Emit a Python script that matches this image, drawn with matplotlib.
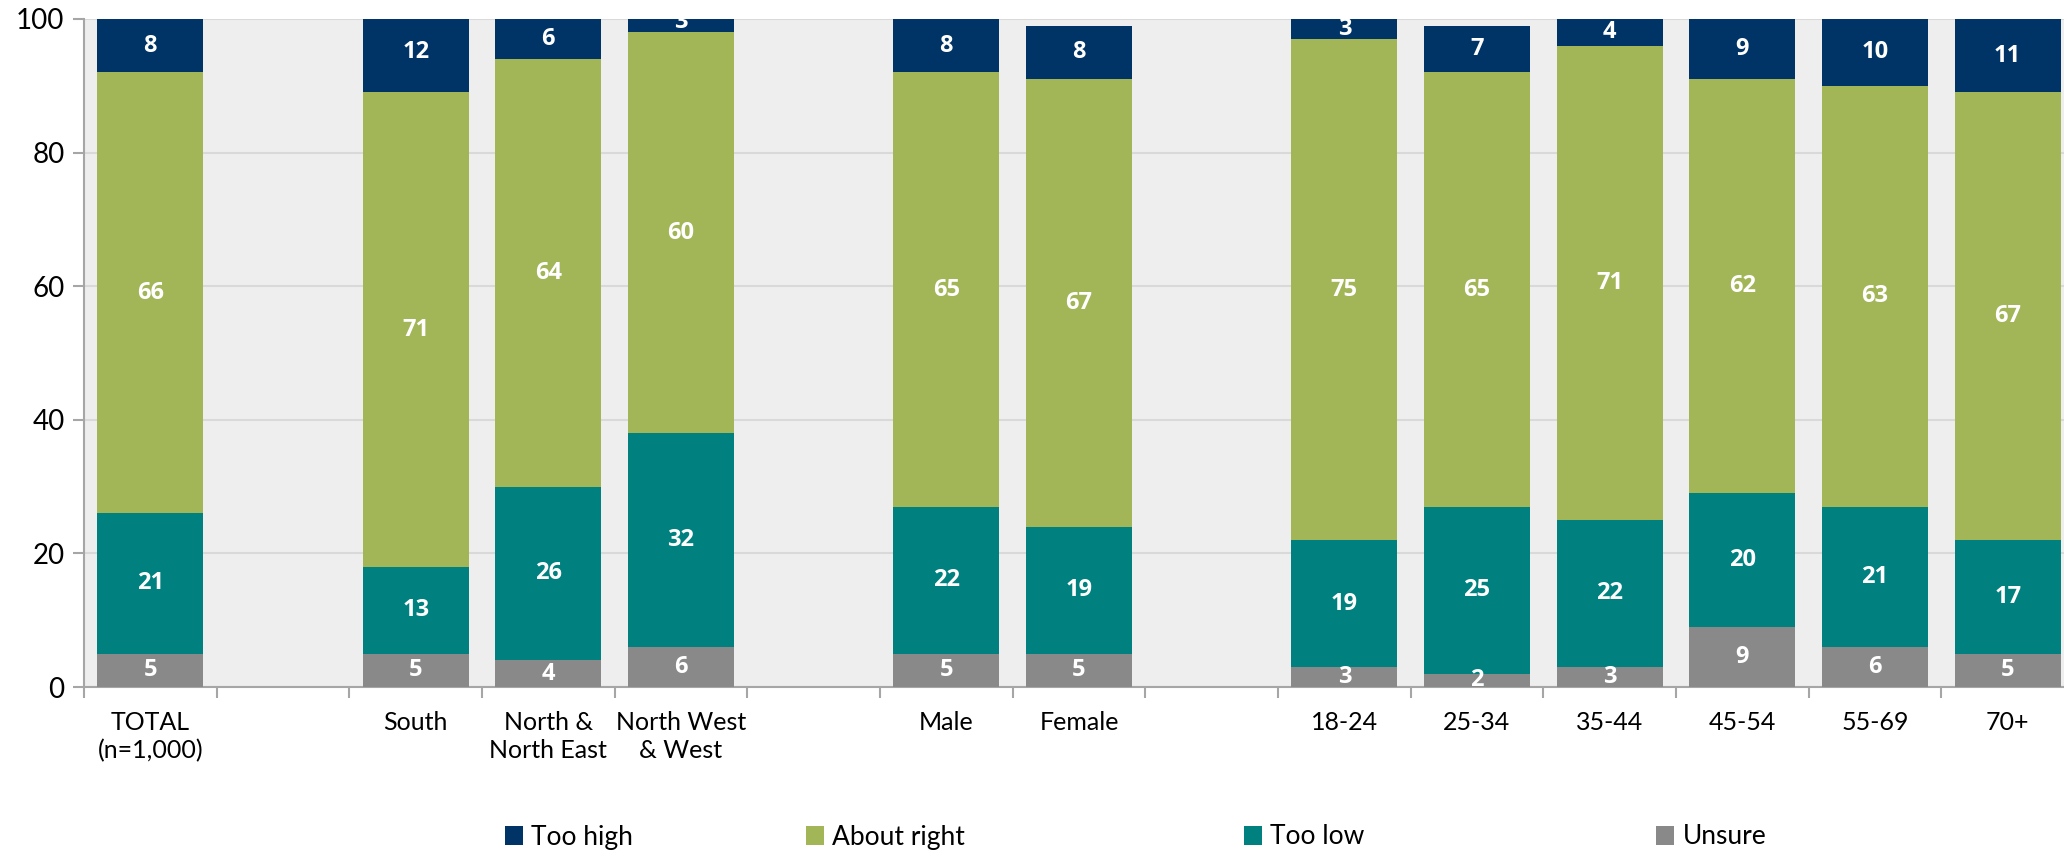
import numpy as np
import matplotlib
matplotlib.use("Agg")
import matplotlib.pyplot as plt

plt.rcParams['font.family'] = ['Lato', 'DejaVu Sans']

# Groups with empty slots used as spacers between the breakdowns
categories = ['TOTAL\n(n=1,000)', '', 'South', 'North &\nNorth East', 'North West\n& West', '',
              'Male', 'Female', '', '18-24', '25-34', '35-44', '45-54', '55-69', '70+']

unsure =      [5, None, 5, 4, 6, None, 5, 5, None, 3, 2, 3, 9, 6, 5]
too_low =     [21, None, 13, 26, 32, None, 22, 19, None, 19, 25, 22, 20, 21, 17]
about_right = [66, None, 71, 64, 60, None, 65, 67, None, 75, 65, 71, 62, 63, 67]
too_high =    [8, None, 12, 6, 3, None, 8, 8, None, 3, 7, 4, 9, 10, 11]

series = [('Unsure', unsure, '#898989'),
          ('Too low', too_low, '#00807F'),
          ('About right', about_right, '#A2B658'),
          ('Too high', too_high, '#003366')]

fig = plt.figure(figsize=(20.64, 8.57), dpi=100)
ax = fig.add_axes([84 / 2064, 170 / 857, 1990 / 2064, 668 / 857])
ax.set_facecolor('#EEEEEE')

x = np.arange(len(categories))
mask = np.array([v is not None for v in unsure])
xs = x[mask]
bottom = np.zeros(mask.sum())
handles = {}
for name, vals, color in series:
    v = np.array([a for a in vals if a is not None], dtype=float)
    bars = ax.bar(xs, v, width=0.8, bottom=bottom, color=color, label=name, zorder=3)
    handles[name] = bars
    for xi, b, h in zip(xs, bottom, v):
        ax.text(xi, b + h / 2, f'{int(h)}', ha='center', va='center', color='white',
                fontsize=17, fontweight='bold', family=['Open Sans', 'DejaVu Sans'],
                zorder=4, clip_on=True)
    bottom += v

ax.set_xlim(-0.5, len(categories) - 0.5)
ax.set_ylim(0, 100)
ax.set_yticks(range(0, 101, 20))
ax.yaxis.grid(True, color='#D9D9D9', linewidth=1.5, zorder=0)
ax.set_axisbelow(True)

ax.set_xticks(x)
ax.set_xticklabels(categories, fontsize=18, linespacing=1.3)
ax.set_xticks(np.arange(len(categories) + 1) - 0.5, minor=True)
ax.tick_params(axis='x', which='major', length=0, pad=17)
ax.tick_params(axis='x', which='minor', length=8, width=1.5, color='#A6A6A6', direction='out')
ax.tick_params(axis='y', length=8, width=1.5, color='#A6A6A6', labelsize=20, pad=6)

for side in ['top', 'right']:
    ax.spines[side].set_visible(False)
for side in ['left', 'bottom']:
    ax.spines[side].set_color('#A6A6A6')
    ax.spines[side].set_linewidth(1.5)

# One legend entry per slot along the bottom
order = ['Too high', 'About right', 'Too low', 'Unsure']
legend_x = [505, 806, 1244, 1656]
for name, lx in zip(order, legend_x):
    leg = fig.legend([handles[name]], [name], loc='center left',
                     bbox_to_anchor=(lx / 2064, 1 - 837 / 857), frameon=False, fontsize=19,
                     handlelength=0.7, handleheight=0.7, handletextpad=0.3,
                     borderpad=0, borderaxespad=0)

fig.savefig('out.png', dpi=100)
